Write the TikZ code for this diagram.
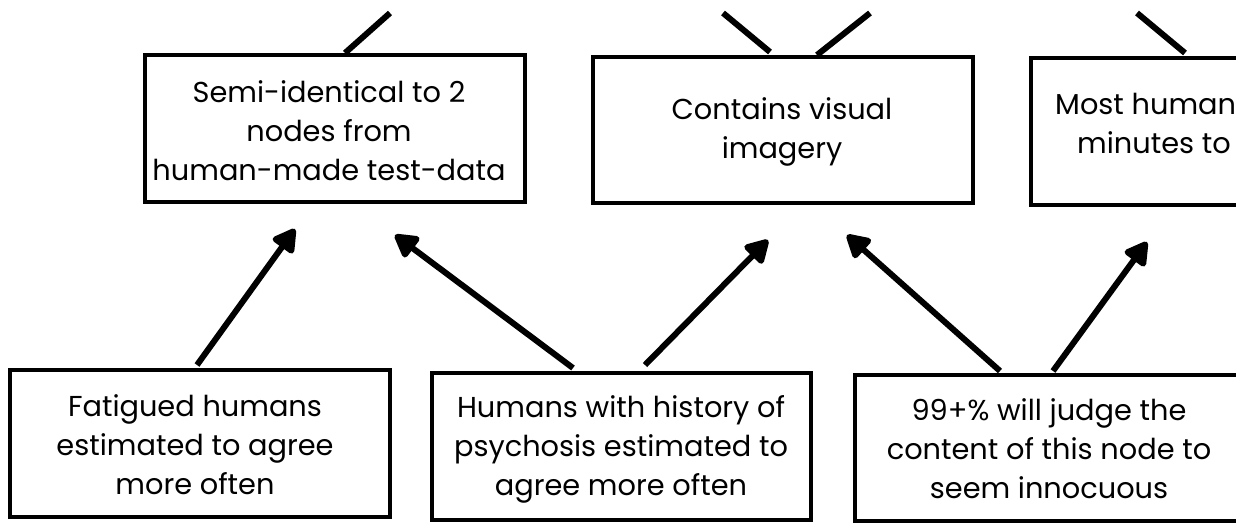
\documentclass[tikz,border=0pt]{standalone}
\usepackage{fontspec}
\setmainfont{Poppins}
\usetikzlibrary{arrows.meta,calc}
\tikzset{
  box/.style={draw=black, line width=4pt, rectangle, align=center, inner sep=0pt},
  txt/.style={font=\fontsize{28.8}{39}\selectfont, align=center, inner sep=0pt},
  arr/.style={line width=6pt, -{Triangle[length=26pt,width=28pt,round]}},
  link/.style={line width=6pt},
}
\begin{document}
\begin{tikzpicture}[x=1pt,y=-1pt]
\useasboundingbox (0,0) rectangle (1236,522);
\clip (0,0) rectangle (1236,522);
\fill[white] (0,0) rectangle (1236,522);
% top row
\node[box, minimum width=380pt, minimum height=147pt] (t1) at (335,128.5) {};
\node[txt] (t1t) at (329,131) {Semi-identical to 2\\nodes from\\human-made test-data};
\node[box, minimum width=380pt, minimum height=146pt] (t2) at (783,130) {};
\node[txt] (t2t) at (782,132) {Contains visual\\imagery};
\node[box, minimum width=380pt, minimum height=147pt] (t3) at (1221,131.5) {};
\node[txt, align=left, anchor=north west] (t3t) at (1055,93) {Most humans\\\hspace*{22pt}minutes to};
% bottom row
\node[box, minimum width=380pt, minimum height=147pt] (b1) at (200,443.5) {};
\node[txt] (b1t) at (195,445) {Fatigued humans\\estimated to agree\\more often};
\node[box, minimum width=379pt, minimum height=147pt] (b2) at (621.5,446.5) {};
\node[txt] (b2t) at (621,449) {Humans with history of\\psychosis estimated to\\agree more often};
\node[box, minimum width=385pt, minimum height=146pt] (b3) at (1047.5,448) {};
\node[txt] (b3t) at (1049,449) {99+\% will judge the\\content of this node to\\seem innocuous};
% links going off the top
\coordinate (u1) at (390,13);
\coordinate (u2) at (723,13);
\coordinate (u3) at (870,13);
\coordinate (u4) at (1137,13);
\draw[link] ($(t1.north)+(10,0)$) -- (u1);
\draw[link] ($(t2.north)+(-13,-3)$) -- (u2);
\draw[link] ($(t2.north)+(34,0)$) -- (u3);
\draw[link] ($(t3.north)+(-36,-3)$) -- (u4);
% arrows
\draw[arr] ($(b1.north)+(-3,-3)$) -- ($(t1.south)+(-40,25)$);
\draw[arr] ($(b2.north)+(-48.5,-3)$) -- ($(t1.south)+(60,31)$);
\draw[arr] ($(b2.north)+(23.5,-6)$) -- ($(t2.south)+(-15,35)$);
\draw[arr] ($(b3.north)+(-47.5,-2)$) -- ($(t2.south)+(64,30)$);
\draw[arr] ($(b3.north)+(5.5,-2)$) -- ($(t3.south)+(-74,35)$);
\end{tikzpicture}
\end{document}
